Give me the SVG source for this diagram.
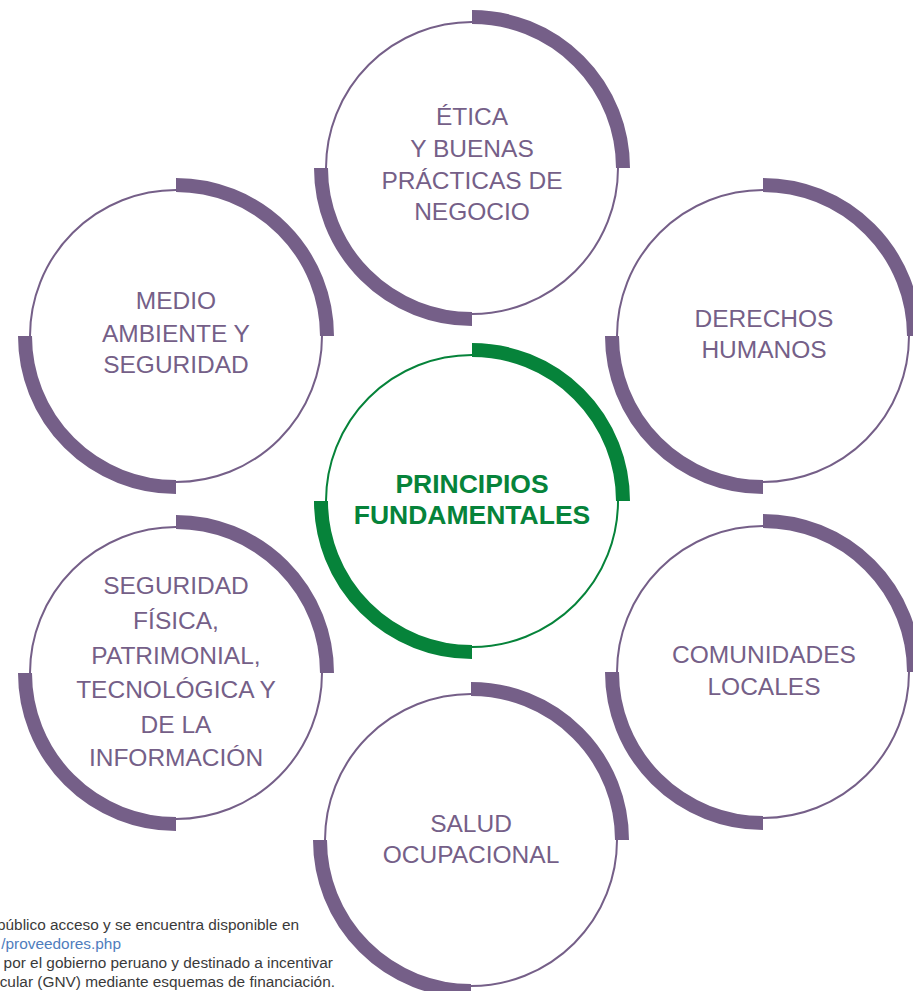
<svg xmlns="http://www.w3.org/2000/svg" width="913" height="991" viewBox="0 0 913 991">
<style>
.ring{fill:none;stroke:#755f88;stroke-width:2}
.band{fill:none;stroke:#755f88;stroke-width:14;stroke-linecap:butt}
.gring{fill:none;stroke:#06833a;stroke-width:2}
.gband{fill:none;stroke:#06833a;stroke-width:14;stroke-linecap:butt}
.lbl{font-family:"Liberation Sans",Arial,sans-serif;font-size:24.5px;fill:#755f88;text-anchor:middle}
.glbl{font-family:"Liberation Sans",Arial,sans-serif;font-size:26.5px;font-weight:bold;fill:#06833a;text-anchor:middle}
.note{font-family:"Liberation Sans",Arial,sans-serif;font-size:15.4px;fill:#3a3a3a;text-anchor:end}
.link{fill:#4f7dbd}
</style>
<g id="connectors"></g>
<g id="etica">
<circle class="ring" cx="472" cy="168" r="146"/>
<path class="band" d="M472 17 A151 151 0 0 1 623 168"/>
<path class="band" d="M321 168 A151 151 0 0 0 472 319"/>
<text class="lbl" x="472" y="125">ÉTICA</text>
<text class="lbl" x="472" y="157">Y BUENAS</text>
<text class="lbl" x="472" y="189">PRÁCTICAS DE</text>
<text class="lbl" x="472" y="220">NEGOCIO</text>
</g>
<g id="medio">
<circle class="ring" cx="176" cy="336" r="146"/>
<path class="band" d="M176 185 A151 151 0 0 1 327 336"/>
<path class="band" d="M25 336 A151 151 0 0 0 176 487"/>
<text class="lbl" x="176" y="309">MEDIO</text>
<text class="lbl" x="176" y="342">AMBIENTE Y</text>
<text class="lbl" x="176" y="373">SEGURIDAD</text>
</g>
<g id="derechos">
<circle class="ring" cx="763" cy="336" r="146"/>
<path class="band" d="M763 185 A151 151 0 0 1 914 336"/>
<path class="band" d="M612 336 A151 151 0 0 0 763 487"/>
<text class="lbl" x="764" y="327">DERECHOS</text>
<text class="lbl" x="764" y="358">HUMANOS</text>
</g>
<g id="principios">
<circle class="gring" cx="472" cy="501" r="146"/>
<path class="gband" d="M472 350 A151 151 0 0 1 623 501"/>
<path class="gband" d="M321 501 A151 151 0 0 0 472 652"/>
<text class="glbl" x="472" y="493">PRINCIPIOS</text>
<text class="glbl" x="472" y="524">FUNDAMENTALES</text>
</g>
<g id="seguridad">
<circle class="ring" cx="176" cy="673" r="146"/>
<path class="band" d="M176 522 A151 151 0 0 1 327 673"/>
<path class="band" d="M25 673 A151 151 0 0 0 176 824"/>
<text class="lbl" x="176" y="594">SEGURIDAD</text>
<text class="lbl" x="176" y="629">FÍSICA,</text>
<text class="lbl" x="176" y="664">PATRIMONIAL,</text>
<text class="lbl" x="176" y="698">TECNOLÓGICA Y</text>
<text class="lbl" x="176" y="733">DE LA</text>
<text class="lbl" x="176" y="766">INFORMACIÓN</text>
</g>
<g id="comunidades">
<circle class="ring" cx="763" cy="672" r="146"/>
<path class="band" d="M763 521 A151 151 0 0 1 914 672"/>
<path class="band" d="M612 672 A151 151 0 0 0 763 823"/>
<text class="lbl" x="764" y="663">COMUNIDADES</text>
<text class="lbl" x="764" y="695">LOCALES</text>
</g>
<g id="salud">
<circle class="ring" cx="471" cy="840" r="146"/>
<path class="band" d="M471 689 A151 151 0 0 1 622 840"/>
<path class="band" d="M320 840 A151 151 0 0 0 471 991"/>
<text class="lbl" x="471" y="832">SALUD</text>
<text class="lbl" x="471" y="863">OCUPACIONAL</text>
</g>
<g id="footnote">
<text class="note" x="299" y="930">público acceso y se encuentra disponible en</text>
<text class="note link" x="121" y="949">/proveedores.php</text>
<text class="note" x="333" y="968">por el gobierno peruano y destinado a incentivar</text>
<text class="note" x="335" y="987">icular (GNV) mediante esquemas de financiación.</text>
</g>
</svg>
